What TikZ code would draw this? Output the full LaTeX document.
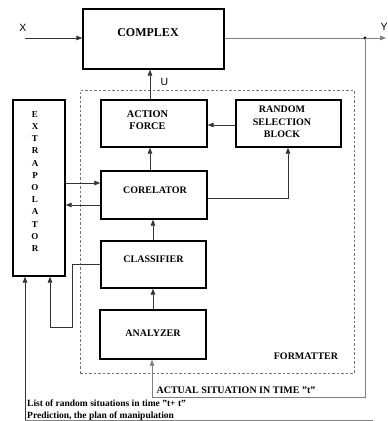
\documentclass[tikz,border=0pt]{standalone}
\usepackage{fontspec}
\setmainfont{Liberation Serif}
\newfontfamily\labelsans{Liberation Sans}
\usetikzlibrary{arrows.meta}
\begin{document}
\begin{tikzpicture}[x=1pt,y=-1pt,
  box/.style={draw=black,line width=1.4pt,inner sep=0pt},
  lbl/.style={font=\bfseries\fontsize{10}{12.2}\selectfont,align=center,inner sep=0pt},
  sig/.style={font=\labelsans\fontsize{10.5}{12}\selectfont,inner sep=0pt},
  wire/.style={draw=black!80,line width=0.8pt},
  grey wire/.style={draw=black!50,line width=0.9pt},
  tip/.style={-{Triangle[length=6pt,width=4.6pt]}},
  frame/.style={draw=black!55,dashed,dash pattern=on 2.5pt off 2pt,line width=0.9pt,inner sep=0pt}
]
\useasboundingbox (0,0) rectangle (388,421);

% blocks
\node[box,minimum width=141pt,minimum height=60pt] (complex) at (153.5,39) {};
\node[lbl,font=\bfseries\fontsize{12}{14}\selectfont] (complext) at (148,33) {COMPLEX};

\node[frame,minimum width=274pt,minimum height=283pt] (formatter) at (217,231.5) {};
\node[lbl] (formattert) at (306,356) {FORMATTER};

\node[box,minimum width=106pt,minimum height=47pt] (action) at (154,123.5) {};
\node[lbl,font=\bfseries\fontsize{10.3}{12}\selectfont] (actiont) at (147.5,120.5) {ACTION\\FORCE};

\node[box,minimum width=105pt,minimum height=47pt] (random) at (288.5,123.5) {};
\node[lbl,font=\bfseries\fontsize{10}{12.5}\selectfont] (randomt) at (282,122) {RANDOM\\SELECTION\\BLOCK};

\node[box,minimum width=106pt,minimum height=48pt] (corel) at (154,195) {};
\node[lbl] (corelt) at (155,190) {CORELATOR};

\node[box,minimum width=105pt,minimum height=47pt] (classif) at (153.5,264.5) {};
\node[lbl] (classift) at (153.5,259) {CLASSIFIER};

\node[box,minimum width=106pt,minimum height=49pt] (analyz) at (153,334.5) {};
\node[lbl] (analyzt) at (153,333) {ANALYZER};

\node[box,minimum width=52pt,minimum height=176pt] (extrap) at (39,188) {};
\node[lbl,font=\bfseries\fontsize{9}{12.2}\selectfont] (extrapt) at (35,181.5)
  {E\\X\\T\\R\\A\\P\\O\\L\\A\\T\\O\\R};

% signal names
\node[sig] (xlab) at (23,28) {X};
\node[sig] (ylab) at (384,27) {Y};
\node[sig] (ulab) at (164.5,82) {U};

% free ends and bends
\coordinate (xin) at (25,38);
\coordinate (yout) at (386,38);
\coordinate (ytap) at (365,38);
\coordinate (fbcorner) at (365,397);
\coordinate (fbturn) at (152,397);
\coordinate (cbend) at (288,198);
\coordinate (lq1) at (72,264);
\coordinate (lq2) at (72,327);
\coordinate (lq3) at (50,327);
\coordinate (pred) at (25,420);
\coordinate (predend) at (373,420);

% main line through the complex
\draw[wire,tip] (xin) -- (complex.west |- xin);
\draw[grey wire,tip] (complex.east |- ytap) -- (yout);
\fill[black] (ytap) circle (1.6pt);
\draw[grey wire,tip] (ytap) -- (fbcorner) -- (fbturn) -- (analyz.south -| fbturn);

% inside the formatter
\draw[wire,tip] (action.north -| 150,0) -- (complex.south -| 150,0);
\draw[wire,tip] (random.west |- 0,125) -- (action.east |- 0,125);
\draw[wire,tip] (corel.north -| 150,0) -- (action.south -| 150,0);
\draw[wire,tip] (corel.east |- cbend) -- (cbend) -- (random.south -| cbend);
\draw[wire,tip] (classif.north -| 153,0) -- (corel.south -| 153,0);
\draw[wire,tip] (analyz.north -| 153,0) -- (classif.south -| 153,0);

% exchange with the extrapolator
\draw[wire,tip] (extrap.east |- 0,183) -- (corel.west |- 0,183);
\draw[wire,tip] (corel.west |- 0,205) -- (extrap.east |- 0,205);
\draw[wire,tip] (classif.west |- lq1) -- (lq1) -- (lq2) -- (lq3) -- (extrap.south -| lq3);
\draw[wire,tip] (pred) -- (extrap.south -| pred);
\draw[grey wire] (pred) -- (predend);

% notes
\node[lbl] (actual) at (236,390) {ACTUAL SITUATION IN TIME "t"};
\node[lbl,anchor=west,align=left,font=\bfseries\fontsize{9.5}{12}\selectfont] (notes) at (27,410)
  {List of random situations in time "t+ t"\\Prediction, the plan of manipulation};
\end{tikzpicture}
\end{document}
